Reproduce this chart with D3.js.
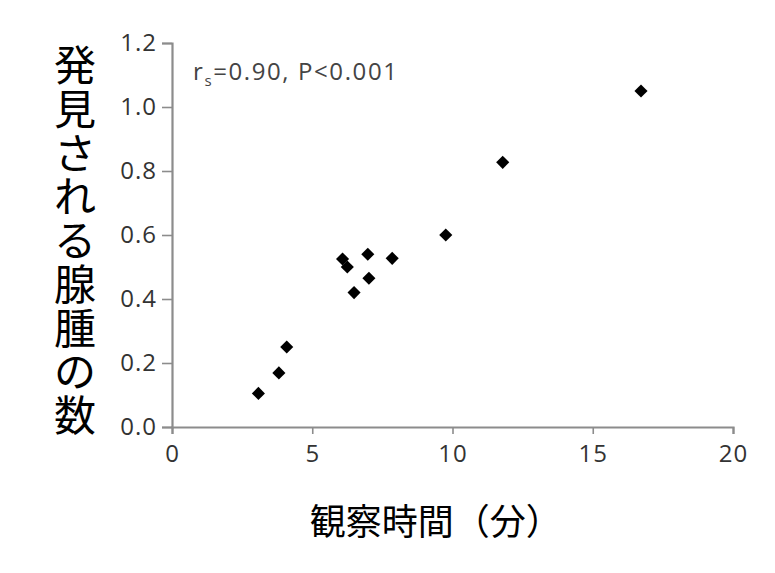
<!DOCTYPE html>
<html>
<head>
<meta charset="utf-8">
<script src="https://cdn.jsdelivr.net/npm/d3@7"></script>
<style>
  body { margin: 0; background: #fff; }
  svg { display: block; }
</style>
</head>
<body>
<svg id="scatter" width="775" height="573"></svg>
<script>
// observation time (min) and detected adenomas per patient
const timeMin = [3.08, 3.81, 4.09, 6.08, 6.25, 6.49, 6.98, 7.02, 7.85, 9.76, 11.79, 16.72];
const adenomas = [0.105, 0.169, 0.25, 0.525, 0.50, 0.42, 0.54, 0.465, 0.527, 0.60, 0.827, 1.05];
const xTicks = [0, 5, 10, 15, 20];
const yTicks = [0, 0.2, 0.4, 0.6, 0.8, 1.0, 1.2];
const xTitle = "観察時間（分）";
const yTitle = "発見される腺腫の数";

const points = timeMin.map((t, i) => ({ t: t, n: adenomas[i] }));

const svg = d3.select("#scatter");
const margin = {top: 43, right: 42, bottom: 146, left: 172};
const width = +svg.attr("width");
const height = +svg.attr("height");
const innerWidth = width - margin.left - margin.right;
const innerHeight = height - margin.top - margin.bottom;

const x = d3.scaleLinear().domain([0, 20]).range([0, innerWidth]);
const y = d3.scaleLinear().domain([0, 1.2]).range([innerHeight, 0]);

const g = svg.append("g")
  .attr("transform", `translate(${margin.left},${margin.top})`);

const axisColor = "#8c8c8c";
const labelFont = "'Open Sans', 'DejaVu Sans', sans-serif";
const cjkFont = "'Noto Sans CJK JP', sans-serif";

// axes
const yAxis = g.append("g")
  .call(d3.axisLeft(y).tickValues(yTicks).tickFormat(d3.format(".1f"))
    .tickSizeOuter(0).tickSize(10).tickPadding(5));
const xAxis = g.append("g")
  .attr("transform", `translate(0,${innerHeight})`)
  .call(d3.axisBottom(x).tickValues(xTicks).tickSizeOuter(0).tickSize(7).tickPadding(11));

[xAxis, yAxis].forEach(a => {
  a.select(".domain").attr("stroke", axisColor).attr("stroke-width", 2.2);
  a.selectAll(".tick line").attr("stroke", axisColor).attr("stroke-width", 1.6);
  a.selectAll(".tick text")
    .attr("fill", "#333")
    .style("font-family", labelFont)
    .style("font-size", "24px")
    .style("letter-spacing", "1px");
});

// points
g.selectAll("path.pt")
  .data(points)
  .enter().append("path")
    .attr("class", "pt")
    .attr("d", d3.symbol().type(d3.symbolSquare).size(86))
    .attr("transform", d => `translate(${x(d.t)},${y(d.n)}) rotate(45)`)
    .attr("fill", "#000");

// correlation note
const note = g.append("text")
  .attr("x", 21)
  .attr("y", 37)
  .attr("fill", "#444")
  .style("font-family", labelFont)
  .style("font-size", "24px")
  .style("letter-spacing", "1.6px");
note.append("tspan").text("r");
note.append("tspan").attr("dy", 6).style("font-size", "15px").text("s");
note.append("tspan").attr("dy", -6).text("=0.90,  P<0.001");

// x title
svg.append("text")
  .attr("x", margin.left + x(9.4))
  .attr("y", 535)
  .attr("text-anchor", "middle")
  .attr("fill", "#000")
  .style("font-family", cjkFont)
  .style("font-size", "36px")
  .text(xTitle);

// y title, stacked one character per row
const chars = Array.from(yTitle);
const rowScale = d3.scaleBand()
  .domain(d3.range(chars.length))
  .range([44, 438]);

svg.append("g").selectAll("text")
  .data(chars)
  .enter().append("text")
    .attr("x", 75)
    .attr("y", (d, i) => rowScale(i) + rowScale.bandwidth() / 2)
    .attr("dy", "0.36em")
    .attr("text-anchor", "middle")
    .attr("fill", "#000")
    .style("font-family", cjkFont)
    .style("font-size", "42px")
    .text(d => d);
</script>
</body>
</html>
